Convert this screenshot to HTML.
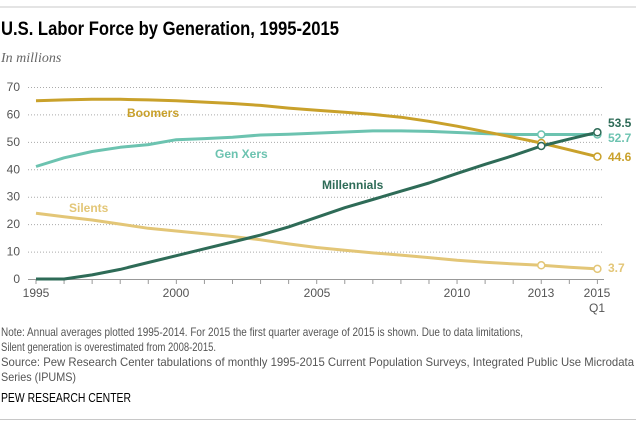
<!DOCTYPE html>
<html><head><meta charset="utf-8"><style>
body{margin:0;background:#fff;width:636px;height:427px;overflow:hidden;font-family:"Liberation Sans",sans-serif}
</style></head><body>
<svg id="s" width="636" height="427" xmlns="http://www.w3.org/2000/svg" font-family="Liberation Sans, sans-serif">
<line x1="0" y1="7" x2="636" y2="7" stroke="#c8c8c8" stroke-width="1"/>
<text x="1" y="35" font-size="19" font-weight="bold" fill="#000" textLength="338" lengthAdjust="spacingAndGlyphs">U.S. Labor Force by Generation, 1995-2015</text>
<text x="1" y="62" font-size="14" font-style="italic" font-family="Liberation Serif, serif" fill="#666">In millions</text>
<g id="grid" stroke="#aaa" stroke-width="1" stroke-dasharray="1,2"></g>
<g font-size="12" fill="#555" text-anchor="end" id="yl"></g>
<line x1="28" y1="279.5" x2="604" y2="279.5" stroke="#999"/>
<g id="ticks" stroke="#999"></g>
<g font-size="12" fill="#555" text-anchor="middle">
<text x="36" y="297">1995</text><text x="176" y="297">2000</text><text x="317" y="297">2005</text><text x="457" y="297">2010</text><text x="541" y="297">2013</text><text x="597" y="297">2015</text><text x="597" y="312">Q1</text>
</g>
<g id="lines" fill="none" stroke-width="3" stroke-linejoin="round"></g>
<g id="dots" fill="#fff" stroke-width="1.5"></g>
<g font-size="12" font-weight="bold">
<text x="127" y="117" fill="#c9a12b">Boomers</text>
<text x="215" y="158" fill="#6cc3b0">Gen Xers</text>
<text x="322" y="189" fill="#2e6b57">Millennials</text>
<text x="69" y="212" fill="#e3c677">Silents</text>
<text x="608" y="127" fill="#2e6b57">53.5</text>
<text x="608" y="142" fill="#6cc3b0">52.7</text>
<text x="608" y="161" fill="#c9a12b">44.6</text>
<text x="608" y="272" fill="#e3c677">3.7</text>
</g>
<g font-size="12" fill="#555">
<text x="1" y="336" textLength="522" lengthAdjust="spacingAndGlyphs">Note: Annual averages plotted 1995-2014. For 2015 the first quarter average of 2015 is shown. Due to data limitations,</text>
<text x="1" y="351" textLength="215" lengthAdjust="spacingAndGlyphs">Silent generation is overestimated from 2008-2015.</text>
<text x="1" y="366" textLength="633" lengthAdjust="spacingAndGlyphs">Source: Pew Research Center tabulations of monthly 1995-2015 Current Population Surveys, Integrated Public Use Microdata</text>
<text x="1" y="381" textLength="75" lengthAdjust="spacingAndGlyphs">Series (IPUMS)</text>
</g>
<text x="1" y="402" font-size="12.5" fill="#000" textLength="130" lengthAdjust="spacingAndGlyphs">PEW RESEARCH CENTER</text>
<line x1="0" y1="419.5" x2="636" y2="419.5" stroke="#c8c8c8"/>
</svg>
<script>
var NS="http://www.w3.org/2000/svg";
function Y(v){return 279-v*192/70}
function X(i){return 36+i*28.07}
function el(p,t,a){var e=document.createElementNS(NS,t);for(var k in a)e.setAttribute(k,a[k]);document.getElementById(p).appendChild(e);return e}
for(var v=10;v<=70;v+=10){el("grid","line",{x1:28,x2:604,y1:Y(v)+.5,y2:Y(v)+.5})}
for(var v=0;v<=70;v+=10){var t=el("yl","text",{x:20,y:Y(v)+4});t.textContent=v}
for(var i=0;i<=20;i++){el("ticks","line",{x1:X(i),x2:X(i),y1:280,y2:284})}
var S=[
["#e3c677",[24,22.7,21.5,20,18.5,17.5,16.5,15.5,14.3,12.8,11.5,10.5,9.5,8.7,7.8,6.8,6.1,5.5,5,4.3,3.7]],
["#6cc3b0",[41,44.2,46.5,48,49,50.8,51.2,51.7,52.5,52.8,53.2,53.6,54,54,53.8,53.4,53,52.7,52.7,52.7,52.7]],
["#c9a12b",[65,65.3,65.5,65.5,65.3,65,64.5,64,63.3,62.3,61.5,60.8,60,59,57.5,55.7,53.7,51.7,49.6,47.1,44.6]],
["#2e6b57",[0,0,1.5,3.5,6,8.5,11,13.5,16,19,22.5,26,29,32,35,38.5,41.8,45,48.5,51,53.5]]];
S.forEach(function(s){var p=s[1].map(function(v,i){return X(i).toFixed(1)+","+Y(v).toFixed(1)}).join(" ");
el("lines","polyline",{points:p,stroke:s[0]});
[18,20].forEach(function(i){el("dots","circle",{cx:X(i),cy:Y(s[1][i]),r:3.5,stroke:s[0]})})});
</script>
</body></html>
